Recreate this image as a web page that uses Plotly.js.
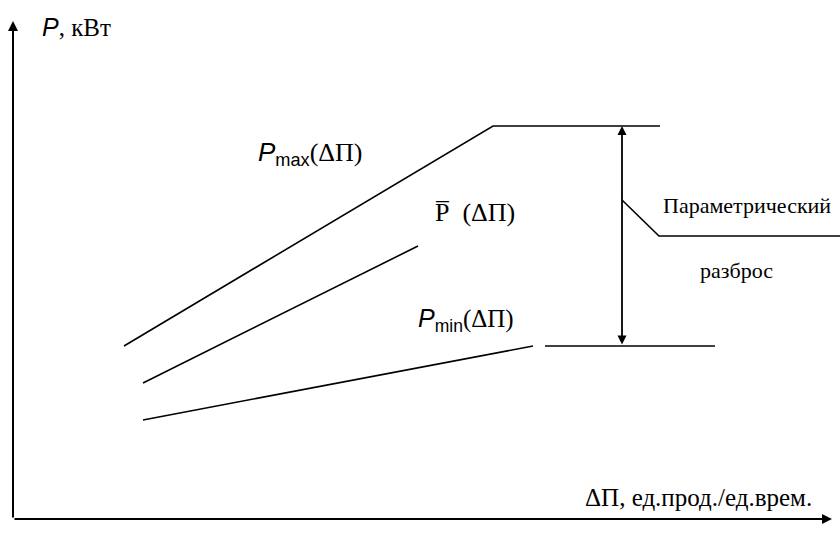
<!DOCTYPE html>
<html>
<head>
<meta charset="utf-8">
<script src="https://cdn.plot.ly/plotly-3.0.1.min.js"></script>
<style>html,body{margin:0;padding:0;background:#fff;}#chart{width:840px;height:551px;}</style>
</head>
<body>
<div id="chart"></div>
<script>
// Schematic values (axis origin = 0,0)
const pmaxX = [111, 480, 647];
const pmaxY = [173, 393, 393];
const pbarX = [130, 405];
const pbarY = [136, 273];
const pminSlopeX = [130, 520];
const pminSlopeY = [99, 173];
const pminFlatX = [532, 702];
const pminFlatY = [173, 173];
const spreadX = 609;
const spreadY = [173, 393];
const leaderX = [609, 646, 827];
const leaderY = [319, 283, 283];
const axisEndX = 819;
const axisEndY = 498;

// label texts
const labelY = '<span style="font-family:Liberation Sans"><i>P</i></span>, кВт';
const labelMax = '<span style="font-family:Liberation Sans"><i>P</i></span><sub><span style="font-family:Liberation Sans">max</span></sub>(ΔΠ)';
const labelBar = 'P\u0305\u2002(ΔΠ)';
const labelMin = '<span style="font-family:Liberation Sans"><i>P</i></span><sub><span style="font-family:Liberation Sans">min</span></sub>(ΔΠ)';
const labelSpread1 = 'Параметрический';
const labelSpread2 = 'разброс';
const labelX = 'ΔΠ, ед.прод./ед.врем.';

const lineStyle = {color: '#000', width: 1.6};
const traces = [
  {x: pmaxX, y: pmaxY, type: 'scatter', mode: 'lines', line: lineStyle, hoverinfo: 'skip'},
  {x: pbarX, y: pbarY, type: 'scatter', mode: 'lines', line: lineStyle, hoverinfo: 'skip'},
  {x: pminSlopeX, y: pminSlopeY, type: 'scatter', mode: 'lines', line: lineStyle, hoverinfo: 'skip'},
  {x: pminFlatX, y: pminFlatY, type: 'scatter', mode: 'lines', line: lineStyle, hoverinfo: 'skip'},
  {x: leaderX, y: leaderY, type: 'scatter', mode: 'lines', line: lineStyle, hoverinfo: 'skip'}
];

const annotations = [
  {x: 0, y: axisEndY, ax: 0, ay: 0, xref: 'x', yref: 'y', axref: 'x', ayref: 'y',
   showarrow: true, arrowhead: 2, arrowsize: 1, arrowwidth: 2, arrowcolor: '#000', text: ''},
  {x: axisEndX, y: 0, ax: 0, ay: 0, xref: 'x', yref: 'y', axref: 'x', ayref: 'y',
   showarrow: true, arrowhead: 2, arrowsize: 1, arrowwidth: 2, arrowcolor: '#000', text: ''},
  {x: spreadX, y: spreadY[1], ax: spreadX, ay: spreadY[0], xref: 'x', yref: 'y', axref: 'x', ayref: 'y',
   showarrow: true, arrowhead: 2, startarrowhead: 2, arrowside: 'end+start', arrowsize: 1, arrowwidth: 1.8, arrowcolor: '#000', text: ''},
  {x: 27, y: 492, xref: 'x', yref: 'y', xanchor: 'left', yanchor: 'middle', showarrow: false, text: labelY,
   font: {family: 'Liberation Serif', size: 25, color: '#000'}},
  {x: 243, y: 366, xref: 'x', yref: 'y', xanchor: 'left', yanchor: 'middle', showarrow: false, text: labelMax,
   font: {family: 'Liberation Serif', size: 26, color: '#000'}},
  {x: 420, y: 307, xref: 'x', yref: 'y', xanchor: 'left', yanchor: 'middle', showarrow: false, text: labelBar,
   font: {family: 'Liberation Serif', size: 26, color: '#000'}},
  {x: 403, y: 199, xref: 'x', yref: 'y', xanchor: 'left', yanchor: 'middle', showarrow: false, text: labelMin,
   font: {family: 'Liberation Serif', size: 25, color: '#000'}},
  {x: 648, y: 314, xref: 'x', yref: 'y', xanchor: 'left', yanchor: 'middle', showarrow: false, text: labelSpread1,
   font: {family: 'Liberation Serif', size: 22, color: '#000'}},
  {x: 685, y: 249, xref: 'x', yref: 'y', xanchor: 'left', yanchor: 'middle', showarrow: false, text: labelSpread2,
   font: {family: 'Liberation Serif', size: 22, color: '#000'}},
  {x: 570, y: 22, xref: 'x', yref: 'y', xanchor: 'left', yanchor: 'middle', showarrow: false, text: labelX,
   font: {family: 'Liberation Serif', size: 25, color: '#000'}}
];

const layout = {
  width: 840, height: 551,
  margin: {l: 0, r: 0, t: 0, b: 0},
  paper_bgcolor: '#fff', plot_bgcolor: '#fff',
  xaxis: {range: [-13, 827], visible: false, fixedrange: true},
  yaxis: {range: [-32, 519], visible: false, fixedrange: true},
  showlegend: false,
  annotations: annotations
};

Plotly.newPlot('chart', traces, layout, {staticPlot: true});
</script>
</body>
</html>
